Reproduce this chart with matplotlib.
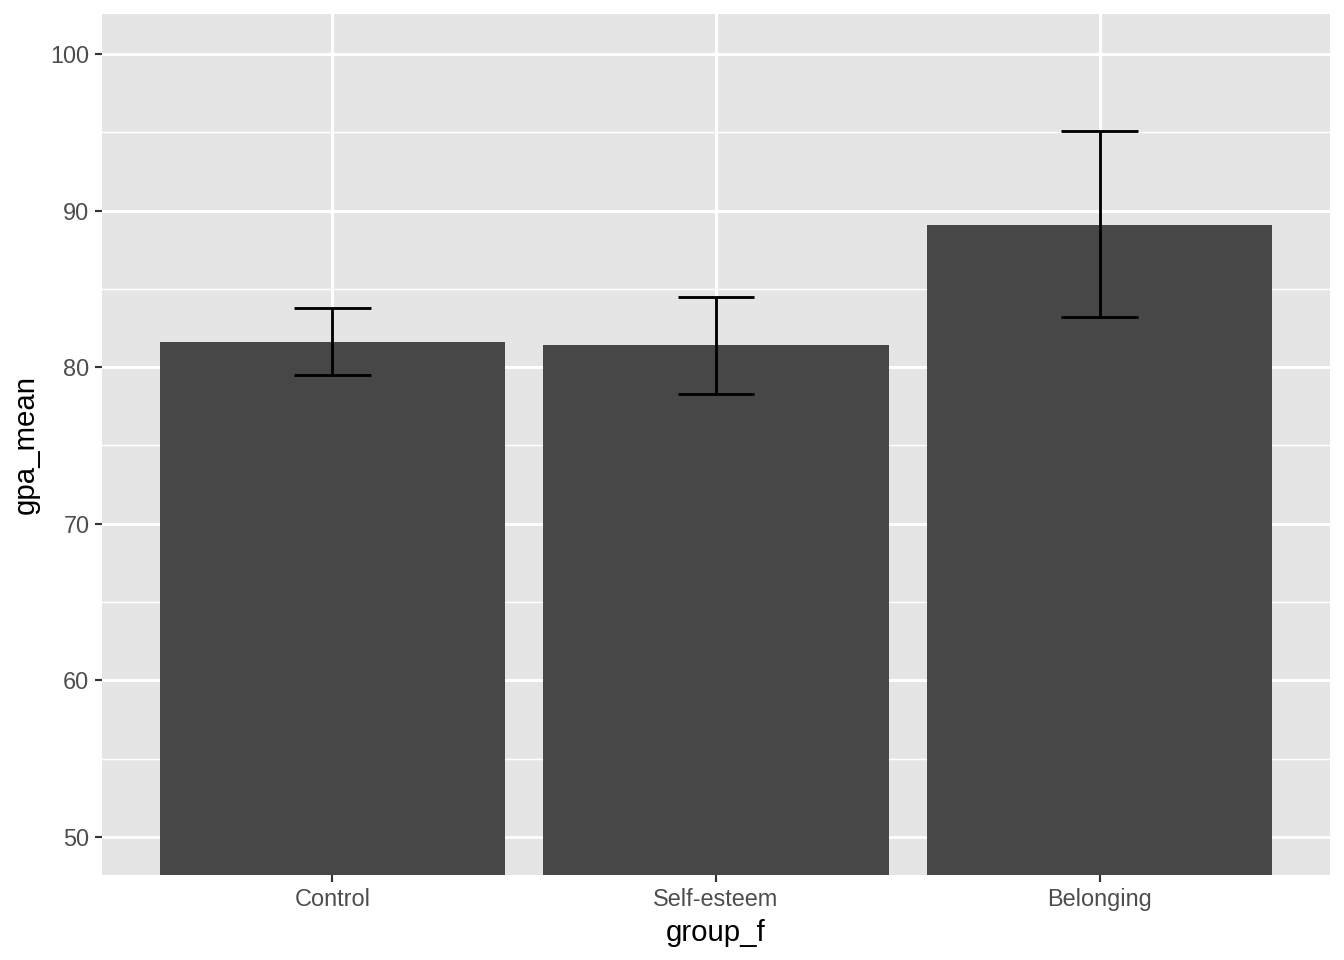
import matplotlib.pyplot as plt

# group means and error bar ends
groups = ['Control', 'Self-esteem', 'Belonging']
gpa_mean = [81.6, 81.4, 89.1]
err_low = [79.5, 78.3, 83.2]
err_high = [83.8, 84.5, 95.1]

plt.rcParams['font.family'] = ['Liberation Sans', 'DejaVu Sans']

fig = plt.figure(figsize=(7, 5), dpi=192)
ax = fig.add_axes([102 / 1344, 1 - 875 / 960, (1330 - 102) / 1344, (875 - 14) / 960])

ax.set_facecolor('#E5E5E5')
for s in ax.spines.values():
    s.set_visible(False)

x = list(range(1, len(groups) + 1))

# minor gridlines (halfway between majors)
for v in [55, 65, 75, 85, 95]:
    ax.axhline(v, color='white', lw=0.55, zorder=0)
for v in [50, 60, 70, 80, 90, 100]:
    ax.axhline(v, color='white', lw=1.1, zorder=0)
for xi in x:
    ax.axvline(xi, color='white', lw=1.1, zorder=0)

ax.bar(x, gpa_mean, width=0.9, bottom=0, color='#474747', zorder=2)

yerr = [[m - lo for m, lo in zip(gpa_mean, err_low)],
        [hi - m for m, hi in zip(gpa_mean, err_high)]]
ax.errorbar(x, gpa_mean, yerr=yerr, fmt='none', ecolor='black', elinewidth=1.07,
            capsize=0, zorder=3)
for xi, lo, hi in zip(x, err_low, err_high):
    ax.hlines([lo, hi], xi - 0.1, xi + 0.1, color='black', lw=1.07, zorder=3)

ax.set_xlim(0.4, 3.6)
ax.set_ylim(47.57, 102.55)
ax.set_yticks([50, 60, 70, 80, 90, 100])
ax.set_xticks(x)
ax.set_xticklabels(groups)
ax.tick_params(axis='both', length=2.75, width=0.8, color='#333333',
               labelcolor='#4D4D4D', labelsize=8.8, pad=2)

ax.set_xlabel('group_f', fontsize=11, labelpad=3)
ax.set_ylabel('gpa_mean', fontsize=11, labelpad=4)

fig.savefig('out.png', dpi=192)
